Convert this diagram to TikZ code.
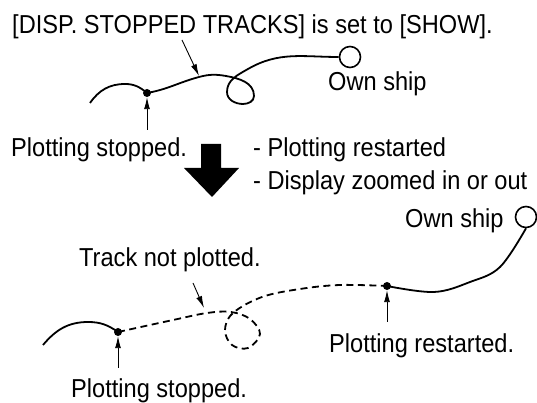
\documentclass[tikz,border=0pt]{standalone}
\usepackage{fontspec}
\setmainfont{Liberation Sans}
\usetikzlibrary{arrows.meta}

\begin{document}
\begin{tikzpicture}[x=1pt, y=1pt,
        lbl/.style={inner sep=0pt, anchor=base west, font=\fontsize{23.6}{28}\selectfont, yscale=1.1},
        track/.style={line width=1.8pt},
        lost/.style={line width=1.8pt, dash pattern=on 7pt off 4.5pt},
        pointer/.style={line width=0.9pt, -{Latex[length=12pt,width=6pt]}},
        dot/.style={circle, fill, inner sep=0pt, minimum size=8pt},
        ship/.style={circle, draw, line width=1.6pt, inner sep=0pt, minimum size=21pt}
    ]
    \useasboundingbox (0,0) rectangle (537,403);

    % before: track is shown
    \node[lbl] (title) at (12,369) {[DISP. STOPPED TRACKS] is set to [SHOW].};
    \node[dot] (stopA) at (147,310) {};
    \node[ship] (ownA) at (350,346) {};
    \node[lbl] (ownAtxt) at (328,312) {Own ship};
    \node[lbl] (stopAtxt) at (11,246) {Plotting stopped.};
    \node[lbl] (why1) at (253,246) {- Plotting restarted};
    \node[lbl] (why2) at (253,213) {- Display zoomed in or out};
    \coordinate (tailA) at (90,300);
    \coordinate (stopAtail) at (147,273);
    \coordinate (titletail) at (182,363);
    \coordinate (titletip) at (199,327);

    \draw[track] (tailA) to[out=55,in=180] (125,319) to[out=0,in=140] (stopA.center);
    \draw[track] (stopA.center) to[out=10,in=195] (199,326) to[out=15,in=170] (226,327)
        to[out=-10,in=90] (254,307) to[out=-90,in=0] (243,299) to[out=180,in=-90] (227,311)
        to[out=90,in=210] (248,334) to[out=30,in=180] (ownA.west);

    \draw[pointer] (titletail) -- (titletip);
    \draw[pointer] (stopAtail) -- (stopA);

    % big arrow
    \fill (201,259) -- (221,259) -- (221,235) -- (239,235) -- (212,206) -- (184,235) -- (201,235) -- cycle;

    % after: gap in the track
    \node[ship] (ownB) at (526,186) {};
    \node[lbl] (ownBtxt) at (405,175) {Own ship};
    \node[lbl] (gaptxt) at (79,136) {Track not plotted.};
    \node[dot] (stopB) at (118,71) {};
    \node[dot] (restartB) at (387,117) {};
    \node[lbl] (restartBtxt) at (329,50) {Plotting restarted.};
    \node[lbl] (stopBtxt) at (71,5) {Plotting stopped.};
    \coordinate (tailB) at (43,58);
    \coordinate (gaptail) at (193,120);
    \coordinate (gaptip) at (204,95);
    \coordinate (stopBtail) at (118,35);
    \coordinate (restartBtail) at (387,81);

    \draw[track] (tailB) to[out=50,in=180] (88,81) to[out=0,in=145] (stopB.center);
    \draw[lost] plot[smooth, tension=0.6] coordinates {(stopB.center) (173,83) (207,90) (231,91) (250,84) (260,69) (248,55) (232,58) (225,73) (233,90) (262,106) (300,114) (340,118) (restartB.center)};
    \draw[track] plot[smooth, tension=0.6] coordinates {(restartB.center) (434,111) (470,121) (500,136) (ownB.south)};

    \draw[pointer] (gaptail) -- (gaptip);
    \draw[pointer] (stopBtail) -- (stopB);
    \draw[pointer] (restartBtail) -- (restartB);
\end{tikzpicture}
\end{document}
